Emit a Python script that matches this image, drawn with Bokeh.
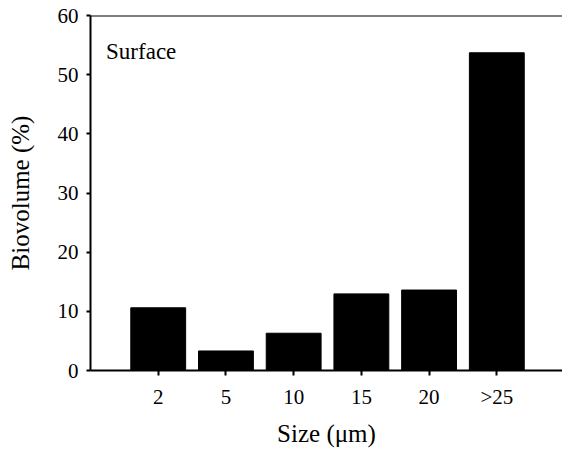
from bokeh.plotting import figure
from bokeh.models import FixedTicker, Span, Label, ColumnDataSource
from bokeh.embed import file_html
from bokeh.resources import INLINE

categories = ["2", "5", "10", "15", "20", ">25"]
biovolume = [10.6, 3.3, 6.3, 12.95, 13.6, 53.7]
y_ticks = [0, 10, 20, 30, 40, 50, 60]

positions = [i + 1 for i in range(len(categories))]
src = ColumnDataSource(dict(x=positions, top=biovolume, cat=categories))

FONT = "Liberation Serif"

p = figure(width=562, height=455, output_backend="svg", toolbar_location=None,
           x_range=(0, 6.97), y_range=(0, 60),
           min_border_left=90, min_border_top=15, min_border_bottom=85, min_border_right=0)

p.vbar(x="x", top="top", width=0.81, source=src, fill_color="black", line_color="black")

p.grid.visible = False
p.outline_line_color = None
p.background_fill_color = "white"
p.border_fill_color = "white"

p.add_layout(Span(location=60, dimension="width", line_color="black", line_width=2))

xa = p.xaxis[0]
xa.ticker = FixedTicker(ticks=positions)
xa.major_label_overrides = {pos: c for pos, c in zip(positions, categories)}
xa.axis_label = "Size (\u03bcm)"
xa.minor_tick_line_color = None
xa.major_tick_in = 0
xa.major_tick_out = 5
xa.major_label_standoff = 9
xa.axis_label_standoff = 8

ya = p.yaxis[0]
ya.ticker = FixedTicker(ticks=y_ticks)
ya.axis_label = "Biovolume (%)"
ya.minor_tick_line_color = None
ya.major_tick_in = 0
ya.major_tick_out = 4
ya.major_label_standoff = 8
ya.axis_label_standoff = 21

for ax in (xa, ya):
    ax.axis_line_color = "black"
    ax.axis_line_width = 2
    ax.major_tick_line_width = 2
    ax.major_label_text_font = FONT
    ax.major_label_text_font_size = "21px"
    ax.major_label_text_color = "black"
    ax.axis_label_text_font = FONT
    ax.axis_label_text_font_size = "25px"
    ax.axis_label_text_font_style = "normal"
    ax.axis_label_text_color = "black"

p.add_layout(Label(x=0.23, y=54, text="Surface", text_font=FONT,
                   text_font_size="23px", text_color="black", text_baseline="alphabetic"))

open("out.html", "w").write(file_html(p, INLINE))
